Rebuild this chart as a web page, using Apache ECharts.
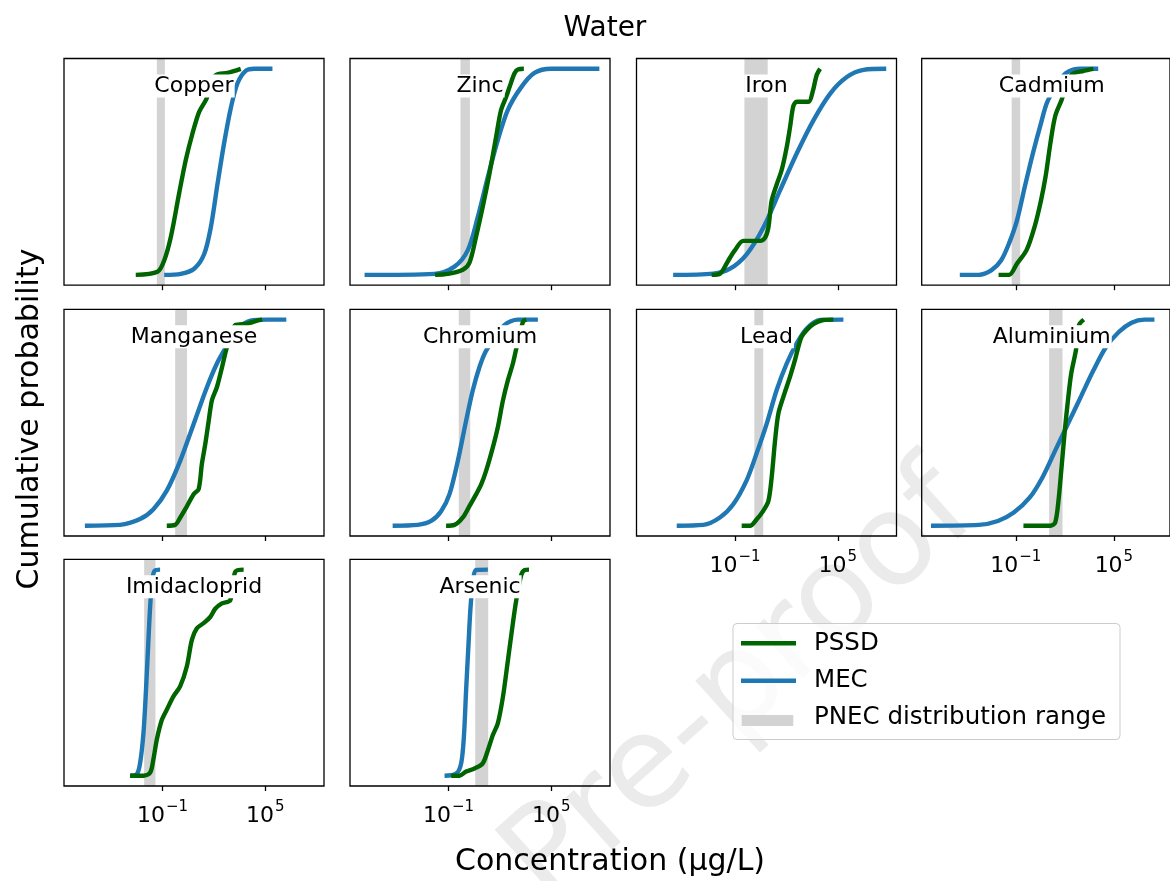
<!DOCTYPE html>
<html>
<head>
<meta charset="utf-8">
<script src="https://cdn.jsdelivr.net/npm/echarts@6/dist/echarts.min.js"></script>
<style>html,body{margin:0;padding:0;background:#fff;}#c{width:1170px;height:881px;}</style>
</head>
<body>
<div id="c"></div>
<script>
// x values are log10(concentration, µg/L); y values are cumulative probability
const substances = ['Copper','Zinc','Iron','Cadmium','Manganese','Chromium','Lead','Aluminium','Imidacloprid','Arsenic'];
const tickValues = [-1, 5];
const tickLabels = ['−1', '5'];   // exponents of 10

const copperMEC = [[-0.90,0],[0.07,0.005],[0.85,0.03],[1.43,0.10],[1.82,0.23],[2.21,0.44],[2.60,0.64],[2.99,0.81],[3.38,0.93],[3.86,0.99],[4.35,1],[5.42,1]];
const copperPSSD = [[-2.56,0],[-1.29,0.015],[-0.90,0.07],[-0.51,0.185],[-0.03,0.395],[0.36,0.557],[0.75,0.686],[1.14,0.791],[1.53,0.848],[1.82,0.91],[2.11,0.969],[2.79,0.98],[3.57,1]];
const copperPNEC = [-1.33,-0.86];

const zincMEC = [[-5.90,0],[-1.82,0.005],[-0.65,0.04],[0.13,0.12],[0.71,0.28],[1.30,0.476],[1.88,0.654],[2.46,0.80],[3.24,0.91],[4.02,0.98],[4.99,1],[7.81,1]];
const zincPSSD = [[-1.78,0],[-1.04,0.005],[-0.16,0.025],[0.23,0.06],[0.61,0.185],[1.0,0.33],[1.39,0.49],[1.78,0.67],[2.07,0.80],[2.37,0.864],[2.56,0.91],[2.85,0.977],[3.05,0.997],[3.40,1]];
const zincPNEC = [-0.30,0.25];

const ironMEC = [[-4.61,0],[-2.27,0.006],[-1.29,0.03],[-0.32,0.10],[0.66,0.23],[1.63,0.41],[2.61,0.59],[3.58,0.75],[4.56,0.88],[5.53,0.96],[6.51,0.995],[7.83,1]];
const ironPSSD = [[-2.36,0],[-1.87,0.006],[-1.39,0.07],[-1.0,0.12],[-0.51,0.165],[0.46,0.165],[0.75,0.18],[0.95,0.23],[1.14,0.36],[1.44,0.44],[1.73,0.51],[2.02,0.62],[2.22,0.72],[2.41,0.82],[2.61,0.84],[3.29,0.84],[3.54,0.89],[3.77,0.97],[3.97,1]];
const ironPNEC = [-0.45,0.91];

const cadmiumMEC = [[-4.42,0],[-3.26,0],[-2.48,0.023],[-1.89,0.071],[-1.41,0.153],[-0.92,0.266],[-0.44,0.43],[0.05,0.59],[0.54,0.735],[0.93,0.84],[1.61,0.93],[2.09,0.98],[2.97,1],[4.04,1]];
const cadmiumPSSD = [[-2.05,0],[-1.41,0],[-0.92,0.055],[-0.34,0.12],[0.15,0.233],[0.54,0.36],[0.83,0.48],[1.12,0.64],[1.41,0.77],[1.80,0.848],[2.39,0.97],[3.16,0.99],[3.74,1]];
const cadmiumPNEC = [-1.25,-0.73];

const manganeseMEC = [[-5.53,0],[-3.48,0.004],[-2.31,0.032],[-1.53,0.08],[-0.75,0.17],[0.04,0.316],[0.82,0.494],[1.60,0.673],[2.18,0.787],[2.67,0.86],[3.36,0.95],[4.14,0.995],[5.11,1],[6.23,1]];
const manganesePSSD = [[-0.75,0],[-0.26,0.004],[0.04,0.04],[0.33,0.08],[0.82,0.153],[1.11,0.177],[1.30,0.30],[1.50,0.397],[1.70,0.51],[1.89,0.61],[2.18,0.673],[2.48,0.77],[2.77,0.868],[3.26,0.974],[3.95,0.98],[4.53,0.995],[4.82,1]];
const manganesePNEC = [-0.26,0.43];

const chromiumMEC = [[-4.26,0],[-2.79,0.004],[-2.01,0.023],[-1.43,0.07],[-0.94,0.153],[-0.45,0.316],[0.03,0.51],[0.42,0.657],[0.81,0.77],[1.20,0.85],[2.27,0.974],[3.05,1],[4.22,1]];
const chromiumPSSD = [[-1.14,0],[-0.65,0.004],[-0.16,0.04],[0.23,0.096],[0.62,0.153],[0.91,0.20],[1.20,0.267],[1.59,0.38],[1.88,0.478],[2.18,0.608],[2.47,0.706],[2.76,0.787],[2.96,0.86],[3.35,0.99],[3.54,1]];
const chromiumPNEC = [-0.40,0.27];

const leadMEC = [[-4.40,0],[-2.85,0.004],[-1.88,0.04],[-1.10,0.104],[-0.32,0.22],[0.26,0.35],[0.85,0.494],[1.43,0.657],[2.02,0.787],[2.60,0.884],[3.19,0.957],[3.97,0.998],[5.33,1]];
const leadPSSD = [[-0.61,0],[-0.12,0],[0.26,0.03],[0.65,0.072],[0.95,0.12],[1.14,0.234],[1.34,0.413],[1.53,0.543],[1.82,0.624],[2.21,0.722],[2.50,0.803],[2.70,0.868],[2.89,0.917],[3.19,0.95],[3.58,0.978],[4.16,0.998],[4.74,1]];
const leadPNEC = [0.13,0.65];

const aluminiumMEC = [[-6.18,0],[-3.26,0.004],[-2.09,0.023],[-1.12,0.064],[-0.14,0.137],[0.63,0.234],[1.41,0.364],[2.19,0.494],[2.97,0.624],[3.75,0.754],[4.53,0.868],[5.30,0.94],[6.08,0.985],[6.86,1],[7.48,1]];
const aluminiumPSSD = [[-0.53,0],[1.12,0],[1.41,0.015],[1.61,0.12],[1.80,0.283],[2.0,0.462],[2.19,0.608],[2.39,0.738],[2.68,0.852],[2.87,0.974],[3.16,1]];
const aluminiumPNEC = [1.04,1.86];

const imidaclopridMEC = [[-2.89,0],[-2.50,0.007],[-2.31,0.06],[-2.11,0.208],[-1.96,0.42],[-1.82,0.66],[-1.72,0.82],[-1.60,0.95],[-1.45,0.995],[-1.14,1]];
const imidaclopridPSSD = [[-2.89,0],[-2.11,0],[-1.72,0.015],[-1.53,0.08],[-1.33,0.176],[-1.04,0.27],[-0.75,0.32],[-0.36,0.385],[0.03,0.433],[0.42,0.53],[0.72,0.66],[1.01,0.715],[1.40,0.74],[1.79,0.77],[2.08,0.81],[2.47,0.836],[2.96,0.852],[3.25,0.99],[3.74,1]];
const imidaclopridPNEC = [-2.07,-1.41];

const arsenicMEC = [[-1.23,0],[-0.55,0.01],[-0.26,0.06],[-0.10,0.19],[0.03,0.416],[0.17,0.64],[0.29,0.82],[0.45,0.96],[0.62,0.998],[1.30,1]];
const arsenicPSSD = [[-0.84,0],[-0.36,0],[0.03,0.02],[0.52,0.035],[1.0,0.06],[1.30,0.124],[1.59,0.197],[1.88,0.254],[2.18,0.383],[2.47,0.56],[2.76,0.74],[2.96,0.853],[3.25,0.974],[3.45,0.998],[3.70,1]];
const arsenicPNEC = [0.56,1.32];

const mecList = [copperMEC,zincMEC,ironMEC,cadmiumMEC,manganeseMEC,chromiumMEC,leadMEC,aluminiumMEC,imidaclopridMEC,arsenicMEC];
const pssdList = [copperPSSD,zincPSSD,ironPSSD,cadmiumPSSD,manganesePSSD,chromiumPSSD,leadPSSD,aluminiumPSSD,imidaclopridPSSD,arsenicPSSD];
const pnecList = [copperPNEC,zincPNEC,ironPNEC,cadmiumPNEC,manganesePNEC,chromiumPNEC,leadPNEC,aluminiumPNEC,imidaclopridPNEC,arsenicPNEC];
const labelledPanels = ['Lead','Aluminium','Imidacloprid','Arsenic'];

// ---- layout ----
const FONT = 'DejaVu Sans';
const colLeft = [64, 350, 636.5, 921.7];
const rowTop = [58.5, 309.3, 559.3];
const W = 260, H = 226.7;
const LW = 4.4;
const GREEN = '#006400', BLUE = '#1f77b4', BAND = '#d3d3d3';

const grids = [], xAxes = [], yAxes = [], series = [], graphics = [];

// watermark (drawn first, underneath everything)
graphics.push({
  type: 'text', z: 0, silent: true, x: 742, y: 688, rotation: 42 * Math.PI / 180,
  style: {text: 'Pre-proof', x: 0, y: 0, align: 'center', verticalAlign: 'middle', fontSize: 128, fontFamily: FONT, fill: '#ebebeb'}
});

substances.forEach((name, i) => {
  const r = Math.floor(i / 4), c = i % 4;
  const left = colLeft[c], top = rowTop[r];
  grids.push({left: left, top: top, width: W, height: H, show: true, z: 3, borderColor: '#000', borderWidth: 1.3, backgroundColor: 'transparent', containLabel: false});
  const showLab = labelledPanels.indexOf(name) >= 0;
  xAxes.push({
    type: 'value', gridIndex: i, min: -6.75, max: 8.43, z: 10,
    axisLine: {show: false, onZero: false},
    splitLine: {show: false},
    axisTick: {show: true, customValues: tickValues, length: 5, inside: false, lineStyle: {color: '#000', width: 1.3}},
    axisLabel: {
      show: showLab, customValues: tickValues, margin: 17,
      formatter: function (v) { return '{b|10}{s|' + tickLabels[tickValues.indexOf(v)] + '}'; },
      rich: {
        b: {fontSize: 22, fontFamily: FONT, color: '#000', lineHeight: 24, verticalAlign: 'bottom'},
        s: {fontSize: 15, fontFamily: FONT, color: '#000', lineHeight: 16, verticalAlign: 'bottom', padding: [0, 0, 12, 1]}
      }
    }
  });
  yAxes.push({type: 'value', gridIndex: i, min: -0.05, max: 1.05, show: false, splitLine: {show: false}});
  series.push({
    name: 'PNEC distribution range', type: 'line', xAxisIndex: i, yAxisIndex: i, data: [], silent: true, z: 1,
    markArea: {silent: true, itemStyle: {color: BAND, opacity: 1}, label: {show: false},
      data: [[{xAxis: pnecList[i][0], yAxis: -0.05}, {xAxis: pnecList[i][1], yAxis: 1.05}]]}
  });
  series.push({
    name: 'MEC', type: 'line', xAxisIndex: i, yAxisIndex: i, data: mecList[i], showSymbol: false, silent: true,
    smooth: 0.3, lineStyle: {color: BLUE, width: LW}, z: 2
  });
  series.push({
    name: 'PSSD', type: 'line', xAxisIndex: i, yAxisIndex: i, data: pssdList[i], showSymbol: false, silent: true,
    smooth: 0.3, lineStyle: {color: GREEN, width: LW}, z: 3
  });
  graphics.push({
    type: 'text', z: 100, silent: true,
    style: {text: name, x: left + W / 2, y: top + 27.5, align: 'center', verticalAlign: 'middle',
      fontSize: 22, fontFamily: FONT, fill: '#000', backgroundColor: '#fff', padding: [0, 1], lineHeight: 23}
  });
});

// titles
graphics.push({type: 'text', z: 100, silent: true,
  style: {text: 'Water', x: 605, y: 29, align: 'center', verticalAlign: 'middle', fontSize: 28, fontFamily: FONT, fill: '#000'}});
graphics.push({type: 'text', z: 100, silent: true,
  style: {text: 'Concentration (µg/L)', x: 610, y: 862, align: 'center', verticalAlign: 'middle', fontSize: 30, fontFamily: FONT, fill: '#000'}});
graphics.push({type: 'text', z: 100, silent: true, x: 30, y: 419, rotation: Math.PI / 2,
  style: {text: 'Cumulative probability', x: 0, y: 0, align: 'center', verticalAlign: 'middle', fontSize: 30, fontFamily: FONT, fill: '#000'}});

// legend
const legendItems = ['PSSD', 'MEC', 'PNEC distribution range'];
graphics.push({type: 'rect', z: 90, silent: true,
  shape: {x: 733, y: 623.5, width: 387, height: 116, r: 4},
  style: {fill: 'rgba(255,255,255,0.8)', stroke: '#cccccc', lineWidth: 1}});
graphics.push({type: 'line', z: 91, silent: true, shape: {x1: 741, y1: 643.3, x2: 796, y2: 643.3}, style: {stroke: GREEN, lineWidth: LW}});
graphics.push({type: 'line', z: 91, silent: true, shape: {x1: 741, y1: 680.7, x2: 796, y2: 680.7}, style: {stroke: BLUE, lineWidth: LW}});
graphics.push({type: 'rect', z: 91, silent: true, shape: {x: 741.7, y: 715, width: 51.6, height: 11}, style: {fill: BAND}});
[644, 681, 718].forEach((yy, k) => {
  graphics.push({type: 'text', z: 92, silent: true,
    style: {text: legendItems[k], x: 814, y: yy, align: 'left', verticalAlign: 'middle', fontSize: 24.5, fontFamily: FONT, fill: '#000'}});
});

const chart = echarts.init(document.getElementById('c'), null, {renderer: 'canvas'});
chart.setOption({
  animation: false,
  backgroundColor: '#fff',
  grid: grids, xAxis: xAxes, yAxis: yAxes, series: series, graphic: graphics
});
</script>
</body>
</html>
